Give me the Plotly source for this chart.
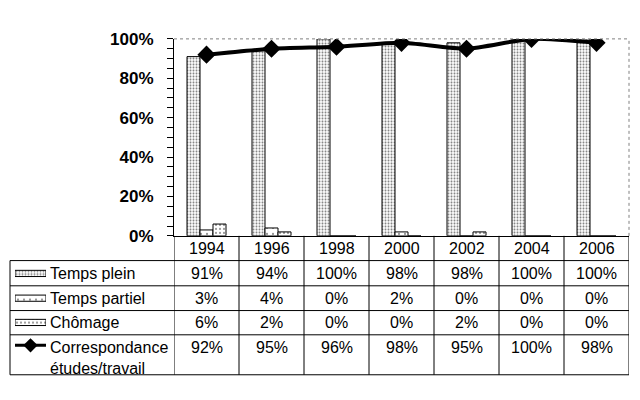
import plotly.graph_objects as go

# ---------------- data ----------------
years = ["1994", "1996", "1998", "2000", "2002", "2004", "2006"]
temps_plein = [91, 94, 100, 98, 98, 100, 100]
temps_partiel = [3, 4, 0, 2, 0, 0, 0]
chomage = [6, 2, 0, 0, 2, 0, 0]
correspondance = [92, 95, 96, 98, 95, 100, 98]
series_names = ["Temps plein", "Temps partiel", "Chômage", "Correspondance<br>études/travail"]
y_ticks = [0, 20, 40, 60, 80, 100]

# ---------------- geometry (page pixels) ----------------
OFF = 8                                      # page body margin
W, H = 640 - OFF, 400 - OFF
PL, PR, PT, PB = 174, 629, 31, 238          # plot area
TL = 10                                      # table left edge
row_lines = [264, 290.5, 316.5, 342, 384]    # horizontal table lines
row_text_y = [277.5, 303.5, 329, 355]
header_y = 251
FONT = "Liberation Sans, Arial, sans-serif"


def xp(px):
    return (px - OFF) / W


def yp(py):
    return 1 - (py - OFF) / H


patterns = [
    dict(shape=".", size=3, solidity=0.35, fgcolor="black", bgcolor="white"),
    dict(shape=".", size=6, solidity=0.1, fgcolor="black", bgcolor="white"),
    dict(shape=".", size=4, solidity=0.2, fgcolor="black", bgcolor="white"),
]

fig = go.Figure()
for name, vals, pat in zip(series_names[:3], [temps_plein, temps_partiel, chomage], patterns):
    fig.add_trace(go.Bar(
        x=years, y=vals, name=name,
        marker=dict(color="white", pattern=pat, line=dict(color="black", width=1)),
        showlegend=False,
    ))

fig.add_trace(go.Scatter(
    x=years, y=correspondance, mode="lines+markers",
    line=dict(color="black", width=4, shape="spline", smoothing=0.6),
    marker=dict(symbol="diamond", size=14, color="black"),
    showlegend=False,
))

# ---- legend keys on their own small axes (left column of the table) ----
key_rows = row_text_y
for name, pat, ky in zip(series_names[:3], patterns, key_rows[:3]):
    fig.add_trace(go.Bar(
        x=[1], y=[ky], base=0, orientation="h", width=6.5,
        marker=dict(color="white", pattern=pat, line=dict(color="black", width=1)),
        xaxis="x3", yaxis="y3", showlegend=False, hoverinfo="skip",
    ))
fig.add_trace(go.Scatter(
    x=[0, 1], y=[key_rows[3] - 2, key_rows[3] - 2], mode="lines",
    line=dict(color="black", width=3), xaxis="x3", yaxis="y3",
    showlegend=False, hoverinfo="skip",
))
fig.add_trace(go.Scatter(
    x=[0.5], y=[key_rows[3] - 2], mode="markers",
    marker=dict(symbol="diamond", size=11, color="black"), xaxis="x3", yaxis="y3",
    showlegend=False, hoverinfo="skip",
))

shapes = []
# dotted border of plot area (top / right)
shapes.append(dict(type="line", xref="x domain", yref="y domain", x0=0, x1=1, y0=1, y1=1,
                   line=dict(color="#808080", width=1, dash="dot")))
shapes.append(dict(type="line", xref="x domain", yref="y domain", x0=1, x1=1, y0=0, y1=1,
                   line=dict(color="#808080", width=1, dash="dot")))
# table vertical lines at category boundaries
for i in range(len(years) + 1):
    shapes.append(dict(type="line", xref="x", yref="paper", x0=i - 0.5, x1=i - 0.5,
                       y0=yp(PB), y1=yp(row_lines[-1]), line=dict(color="black", width=1)))
# table left edge
shapes.append(dict(type="line", xref="paper", yref="paper", x0=xp(TL), x1=xp(TL),
                   y0=yp(row_lines[0]), y1=yp(row_lines[-1]), line=dict(color="black", width=1)))
# horizontal table lines
for ry in row_lines:
    shapes.append(dict(type="line", xref="paper", yref="paper", x0=xp(TL), x1=xp(PR),
                       y0=yp(ry), y1=yp(ry), line=dict(color="black", width=1)))

annotations = []
table_vals = [temps_plein, temps_partiel, chomage, correspondance]
for r, (name, vals) in enumerate(zip(series_names, table_vals)):
    ty = row_text_y[r]
    if r == 3:
        annotations.append(dict(text=name, xref="paper", yref="paper", x=xp(48), y=yp(ty - 11),
                                xanchor="left", yanchor="top", showarrow=False, align="left",
                                font=dict(family=FONT, size=16, color="black")))
    else:
        annotations.append(dict(text=name, xref="paper", yref="paper", x=xp(48), y=yp(ty),
                                xanchor="left", yanchor="middle", showarrow=False,
                                font=dict(family=FONT, size=16, color="black")))
    for i, v in enumerate(vals):
        annotations.append(dict(text=f"{v}%", xref="x", yref="paper", x=i, y=yp(ty),
                                xanchor="center", yanchor="middle", showarrow=False,
                                font=dict(family=FONT, size=16, color="black")))
for i, yr in enumerate(years):
    annotations.append(dict(text=yr, xref="x", yref="paper", x=i, y=yp(header_y),
                            xanchor="center", yanchor="middle", showarrow=False,
                            font=dict(family=FONT, size=16, color="black")))

fig.update_layout(
    width=W, height=H,
    margin=dict(l=0, r=0, t=0, b=0),
    paper_bgcolor="white", plot_bgcolor="white",
    barmode="group", bargap=0.4, bargroupgap=0,
    font=dict(family=FONT, color="black"),
    xaxis=dict(domain=[xp(PL), xp(PR)], type="category", range=[-0.5, len(years) - 0.5],
               showline=True, linecolor="black",
               linewidth=1, ticks="", showticklabels=False, showgrid=False, zeroline=False,
               anchor="y"),
    yaxis=dict(domain=[yp(PB), yp(PT)], range=[0, 100], tickvals=y_ticks,
               ticktext=[f"{v}%" for v in y_ticks],
               showline=True, linecolor="black", linewidth=1, ticks="outside", ticklen=6,
               tickcolor="black", minor=dict(dtick=5, ticks="outside", ticklen=6, tickcolor="black"),
               showgrid=False, zeroline=False, ticklabelstandoff=10,
               tickfont=dict(family=FONT, size=17, weight="bold", color="black"), anchor="x"),
    yaxis2=dict(overlaying="y", range=[0, 100], side="left", anchor="x", tickvals=y_ticks,
                ticks="inside", ticklen=4, tickcolor="black", showticklabels=False,
                minor=dict(dtick=5, ticks="inside", ticklen=4, tickcolor="black"),
                showgrid=False, zeroline=False, showline=False),
    xaxis3=dict(domain=[xp(15), xp(46)], range=[0, 1], visible=False, anchor="y3"),
    yaxis3=dict(domain=[yp(row_lines[-1]), yp(row_lines[0])], range=[row_lines[-1], row_lines[0]],
                visible=False, anchor="x3"),
    shapes=shapes,
    annotations=annotations,
)

fig.write_html("out.html")
